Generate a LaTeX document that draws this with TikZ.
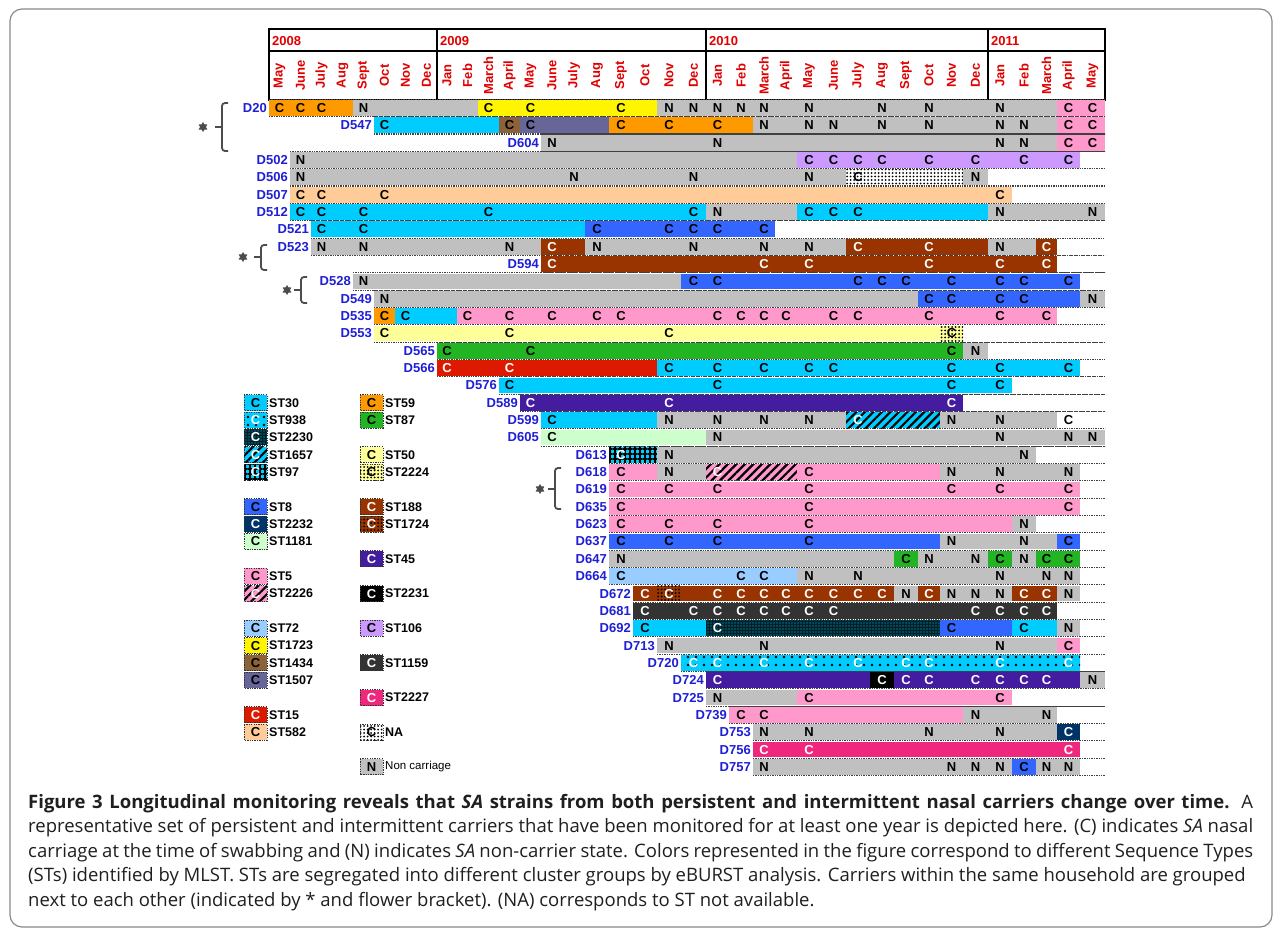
\documentclass[tikz,border=0pt]{standalone}
\usepackage{fontspec}
\usetikzlibrary{patterns.meta,shapes.geometric}
\newfontfamily\arial{Liberation Sans}
\newfontfamily\capf{Open Sans}
\definecolor{cyanST}{HTML}{00CCFF}
\definecolor{blueST}{HTML}{3366FF}
\definecolor{grayN}{HTML}{C0C0C0}
\definecolor{orangeST}{HTML}{FF9900}
\definecolor{yellowST}{HTML}{FFF500}
\definecolor{pinkST}{HTML}{FF99CC}
\definecolor{lavST}{HTML}{CC99FF}
\definecolor{peachST}{HTML}{FFCC99}
\definecolor{brownST}{HTML}{993300}
\definecolor{greenST}{HTML}{22B422}
\definecolor{redST}{HTML}{DD1A00}
\definecolor{paleY}{HTML}{FFFF99}
\definecolor{paleG}{HTML}{CCFFCC}
\definecolor{purpST}{HTML}{441CA0}
\definecolor{dgray}{HTML}{333333}
\definecolor{magST}{HTML}{F0287D}
\definecolor{navyST}{HTML}{003366}
\definecolor{slateST}{HTML}{666699}
\definecolor{oliveST}{HTML}{8C6239}
\definecolor{lblue}{HTML}{99CCFF}
\definecolor{rowblue}{HTML}{1F1FD6}
\definecolor{monred}{HTML}{E00000}
\definecolor{framec}{HTML}{8A8A8A}
\newcommand\bx[1]{\ifcase\numexpr#1\relax 269\or 290\or 311\or 332\or 353\or 374\or 395\or 416\or 437\or 457\or 478\or 499\or 520\or 541\or 563\or 585\or 609\or 633\or 657\or 681\or 706\or 729\or 753\or 775\or 797\or 821\or 846\or 870\or 894\or 918\or 940\or 963\or 988\or 1012\or 1036\or 1057\or 1080\or 1105\else 1105\fi}
\newcommand\rowy[1]{108+17.34*(#1)}
\newcommand\seg[4]{\edef\xa{\bx{#2}}\edef\xb{\bx{#3+1}}\fill[#4] (\xa,{\rowy{#1}-7.9}) rectangle (\xb,{\rowy{#1}+7.9});}
\newcommand\lets[4]{\foreach \c in {#2}{\edef\xa{\bx{\c}}\edef\xb{\bx{\c+1}}\node[lt,text=#4] (r#1c\c) at ({(\xa+\xb)/2},{\rowy{#1}}) {#3};}}
\newcommand\rowbase[3]{%
 \edef\xa{\bx{#2}}%
 \node[rl] (lab#1) at ({\xa-2},{\rowy{#1}}) {#3};
 \draw[dl] (\xa,{\rowy{#1}-8.67}) -- (1105,{\rowy{#1}-8.67});
 \draw[dl] (\xa,{\rowy{#1}+8.67}) -- (1105,{\rowy{#1}+8.67});}
\newcommand\leg[6]{%
 \fill[#3] (#1,{\rowy{#2}-8}) rectangle ({#1+23},{\rowy{#2}+8});
 \draw[lbox] (#1,{\rowy{#2}-8}) rectangle ({#1+23},{\rowy{#2}+8});
 \node[lt,text=#5] (lg#1x#2) at ({#1+11.5},{\rowy{#2}}) {#4};
 \node[legl] (lt#1x#2) at ({#1+25},{\rowy{#2}}) {#6};}
\newcommand\brk[6]{% x, ytop, ybot, ymid, star x, name
 \draw[brl] ({#1+6},#2) -- (#1,#2) -- (#1,#3) -- ({#1+6},#3);
 \draw[brl] (#1,#4) -- ({#1-7},#4);
 \node[stars] (#6) at (#5,#4) {};}
\newcommand\capsel{\capf\fontsize{\capsize}{\capsize}\selectfont}
\newsavebox\capmeasure
\tikzset{
 lt/.style={font=\arial\bfseries\fontsize{13}{13}\selectfont,inner sep=0pt,anchor=center},
 rl/.style={font=\arial\bfseries\fontsize{13}{13}\selectfont,inner sep=0pt,anchor=east,text=rowblue},
 mon/.style={font=\arial\bfseries\fontsize{13}{13}\selectfont,inner sep=0pt,rotate=90,anchor=center,text=monred},
 yr/.style={font=\arial\bfseries\fontsize{13}{13}\selectfont,inner sep=0pt,anchor=west,text=monred},
 legl/.style={font=\arial\bfseries\fontsize{12.5}{12.5}\selectfont,inner sep=0pt,anchor=west},
 dl/.style={draw=black!75,line width=1.1pt,dash pattern=on 1.3pt off 1.1pt},
 lbox/.style={draw=black!80,line width=1pt,dash pattern=on 1.3pt off 1.1pt},
 brl/.style={draw=black!70,line width=1.8pt,rounded corners=3pt},
 stars/.style={star,star points=6,star point ratio=1.7,fill=black!70,minimum size=10pt,inner sep=0pt},
 captext/.style={font=\capsel,inner sep=0pt,anchor=base west,text=black!88},
 stNA/.style={fill=white,postaction={pattern={Dots[distance=3.5pt,radius=1pt]},pattern color=black}},
 st938/.style={fill=cyanST,postaction={pattern={Dots[distance=8pt,radius=1.4pt]},pattern color=black}},
 st2230/.style={fill=black!85!cyanST,postaction={pattern={Dots[distance=3pt,radius=0.7pt]},pattern color=cyanST}},
 st1657/.style={fill=cyanST,postaction={pattern={Lines[angle=45,distance=6pt,line width=2.2pt]},pattern color=black}},
 st97/.style={fill=cyanST,postaction={pattern={Hatch[distance=5pt,line width=1.4pt]},pattern color=black}},
 st2226/.style={fill=pinkST,postaction={pattern={Lines[angle=45,distance=6pt,line width=2.2pt]},pattern color=black}},
 st2224/.style={fill=paleY,postaction={pattern={Dots[distance=3.5pt,radius=1pt]},pattern color=black}},
 st1724/.style={fill=brownST,postaction={pattern={Dots[distance=3.5pt,radius=1pt]},pattern color=black}},
 st2231/.style={fill=black},
}
\begin{document}
\sbox\capmeasure{\capf\fontsize{10}{10}\selectfont representative set of persistent and intermittent carriers that have been monitored for at least one year is depicted here. (C) indicates \textit{SA} nasal}%
\pgfmathsetmacro\capsize{10*1225/\wd\capmeasure}%
\begin{tikzpicture}[x=1pt,y=-1pt]
\useasboundingbox (0,0) rectangle (1281,929);
\fill[white] (0,0) rectangle (1281,929);
\draw[framec,line width=1.2pt,rounded corners=12pt] (10,9) rectangle (1272,927);
% header
\draw[line width=1.1pt] (269,29) rectangle (1105,100);
\draw[line width=1.1pt] (269,51) -- (1105,51);
\foreach \xx in {437,706,988} \draw[line width=1.1pt] (\xx,29) -- (\xx,100);
\node[yr] (y08) at (272,41) {2008};
\node[yr] (y09) at (440,41) {2009};
\node[yr] (y10) at (709,41) {2010};
\node[yr] (y11) at (991,41) {2011};
\foreach \m [count=\i from 0] in {May,June,July,Aug,Sept,Oct,Nov,Dec,Jan,Feb,March,April,May,June,July,Aug,Sept,Oct,Nov,Dec,Jan,Feb,March,April,May,June,July,Aug,Sept,Oct,Nov,Dec,Jan,Feb,March,April,May}
  {\edef\xa{\bx{\i}}\edef\xb{\bx{\i+1}}\node[mon] (m\i) at ({(\xa+\xb)/2},75.5) {\m};}
% rows
% 0 D20
\seg{0}{0}{3}{orangeST}\seg{0}{4}{9}{grayN}\seg{0}{10}{17}{yellowST}\seg{0}{18}{34}{grayN}\seg{0}{35}{36}{pinkST}
\rowbase{0}{0}{D20}
\lets{0}{0,1,2,10,12,16,35,36}{C}{black}\lets{0}{4,18,19,20,21,22,24,27,29,32}{N}{black}
% 1 D547
\seg{1}{5}{10}{cyanST}\seg{1}{11}{11}{oliveST}\seg{1}{12}{15}{slateST}\seg{1}{16}{21}{orangeST}\seg{1}{22}{34}{grayN}\seg{1}{35}{36}{pinkST}
\rowbase{1}{5}{D547}
\lets{1}{5,11,12,16,18,20,35,36}{C}{black}\lets{1}{22,24,25,27,29,32,33}{N}{black}
% 2 D604
\seg{2}{13}{34}{grayN}\seg{2}{35}{36}{pinkST}
\rowbase{2}{13}{D604}
\lets{2}{13,20,32,33}{N}{black}\lets{2}{35,36}{C}{black}
% 3 D502
\seg{3}{1}{23}{grayN}\seg{3}{24}{35}{lavST}
\rowbase{3}{1}{D502}
\lets{3}{1}{N}{black}\lets{3}{24,25,26,27,29,31,33,35}{C}{black}
% 4 D506
\seg{4}{1}{25}{grayN}\seg{4}{26}{30}{stNA}\seg{4}{31}{31}{grayN}
\rowbase{4}{1}{D506}
\lets{4}{1,14,19,24,31}{N}{black}\lets{4}{26}{C}{black}
% 5 D507
\seg{5}{1}{32}{peachST}
\rowbase{5}{1}{D507}
\lets{5}{1,2,5,32}{C}{black}
% 6 D512
\seg{6}{1}{19}{cyanST}\seg{6}{20}{23}{grayN}\seg{6}{24}{31}{cyanST}\seg{6}{32}{36}{grayN}
\rowbase{6}{1}{D512}
\lets{6}{1,2,4,10,19,24,25,26}{C}{black}\lets{6}{20,32,36}{N}{black}
% 7 D521
\seg{7}{2}{14}{cyanST}\seg{7}{15}{22}{blueST}
\rowbase{7}{2}{D521}
\lets{7}{2,4,15,18,19,20,22}{C}{black}
% 8 D523
\seg{8}{2}{12}{grayN}\seg{8}{13}{14}{brownST}\seg{8}{15}{25}{grayN}\seg{8}{26}{31}{brownST}\seg{8}{32}{33}{grayN}\seg{8}{34}{34}{brownST}
\rowbase{8}{2}{D523}
\lets{8}{2,4,11,15,19,22,24,32}{N}{black}\lets{8}{13,26,29,34}{C}{white}
% 9 D594
\seg{9}{13}{34}{brownST}
\rowbase{9}{13}{D594}
\lets{9}{13,22,24,29,32,34}{C}{white}
% 10 D528
\seg{10}{4}{18}{grayN}\seg{10}{19}{35}{blueST}
\rowbase{10}{4}{D528}
\lets{10}{4}{N}{black}\lets{10}{19,20,26,27,28,30,32,33,35}{C}{black}
% 11 D549
\seg{11}{5}{28}{grayN}\seg{11}{29}{35}{blueST}\seg{11}{36}{36}{grayN}
\rowbase{11}{5}{D549}
\lets{11}{5,36}{N}{black}\lets{11}{29,30,32,33}{C}{black}
% 12 D535
\seg{12}{5}{5}{orangeST}\seg{12}{6}{8}{cyanST}\seg{12}{9}{34}{pinkST}
\rowbase{12}{5}{D535}
\lets{12}{5,6,9,11,13,15,16,20,21,22,23,25,26,29,32,34}{C}{black}
% 13 D553
\seg{13}{5}{29}{paleY}\seg{13}{30}{30}{st2224}
\rowbase{13}{5}{D553}
\lets{13}{5,11,18,30}{C}{black}
% 14 D565
\seg{14}{8}{30}{greenST}\seg{14}{31}{31}{grayN}
\rowbase{14}{8}{D565}
\lets{14}{8,12,30}{C}{black}\lets{14}{31}{N}{black}
% 15 D566
\seg{15}{8}{17}{redST}\seg{15}{18}{35}{cyanST}
\rowbase{15}{8}{D566}
\lets{15}{8,11}{C}{white}\lets{15}{18,20,22,24,25,30,32,35}{C}{black}
% 16 D576
\seg{16}{11}{32}{cyanST}
\rowbase{16}{11}{D576}
\lets{16}{11,20,30,32}{C}{black}
% 17 D589
\seg{17}{12}{30}{purpST}
\rowbase{17}{12}{D589}
\lets{17}{12,18,30}{C}{white}
% 18 D599
\seg{18}{13}{17}{cyanST}\seg{18}{18}{25}{grayN}\seg{18}{26}{29}{st1657}\seg{18}{30}{34}{grayN}
\rowbase{18}{13}{D599}
\lets{18}{13,35}{C}{black}\lets{18}{18,20,22,24,30,32}{N}{black}\lets{18}{26}{C}{white}
% 19 D605
\seg{19}{13}{19}{paleG}\seg{19}{20}{36}{grayN}
\rowbase{19}{13}{D605}
\lets{19}{13}{C}{black}\lets{19}{20,32,35,36}{N}{black}
% 20 D613
\seg{20}{16}{17}{st97}\seg{20}{18}{33}{grayN}
\rowbase{20}{16}{D613}
\lets{20}{16}{C}{white}\lets{20}{18,33}{N}{black}
% 21 D618
\seg{21}{16}{17}{pinkST}\seg{21}{18}{19}{grayN}\seg{21}{20}{23}{st2226}\seg{21}{24}{29}{pinkST}\seg{21}{30}{35}{grayN}
\rowbase{21}{16}{D618}
\lets{21}{16,24}{C}{black}\lets{21}{18,30,32,35}{N}{black}\lets{21}{20}{C}{white}
% 22 D619
\seg{22}{16}{35}{pinkST}
\rowbase{22}{16}{D619}
\lets{22}{16,18,20,24,30,32,35}{C}{black}
% 23 D635
\seg{23}{16}{35}{pinkST}
\rowbase{23}{16}{D635}
\lets{23}{16,24,35}{C}{black}
% 24 D623
\seg{24}{16}{32}{pinkST}\seg{24}{33}{33}{grayN}
\rowbase{24}{16}{D623}
\lets{24}{16,18,20,24}{C}{black}\lets{24}{33}{N}{black}
% 25 D637
\seg{25}{16}{29}{blueST}\seg{25}{30}{34}{grayN}\seg{25}{35}{35}{blueST}
\rowbase{25}{16}{D637}
\lets{25}{16,18,20,24,35}{C}{black}\lets{25}{30,33}{N}{black}
% 26 D647
\seg{26}{16}{27}{grayN}\seg{26}{28}{28}{greenST}\seg{26}{29}{31}{grayN}\seg{26}{32}{32}{greenST}\seg{26}{33}{33}{grayN}\seg{26}{34}{35}{greenST}
\rowbase{26}{16}{D647}
\lets{26}{16,29,31,33}{N}{black}\lets{26}{28,32,34,35}{C}{black}
% 27 D664
\seg{27}{16}{23}{lblue}\seg{27}{24}{35}{grayN}
\rowbase{27}{16}{D664}
\lets{27}{16,21,22}{C}{black}\lets{27}{24,26,32,34,35}{N}{black}
% 28 D672
\seg{28}{17}{27}{brownST}\seg{28}{18}{18}{st1724}\seg{28}{28}{28}{grayN}\seg{28}{29}{29}{brownST}\seg{28}{30}{32}{grayN}\seg{28}{33}{34}{brownST}\seg{28}{35}{35}{grayN}
\rowbase{28}{17}{D672}
\lets{28}{17,18,20,21,22,23,24,25,26,27,29,33,34}{C}{white}\lets{28}{28,30,31,32,35}{N}{black}
% 29 D681
\seg{29}{17}{34}{dgray}
\rowbase{29}{17}{D681}
\lets{29}{17,19,20,21,22,23,24,25,31,32,33,34}{C}{white}
% 30 D692
\seg{30}{17}{19}{cyanST}\seg{30}{20}{29}{st2230}\seg{30}{30}{32}{blueST}\seg{30}{33}{34}{cyanST}\seg{30}{35}{35}{grayN}
\rowbase{30}{17}{D692}
\lets{30}{17,30,33}{C}{black}\lets{30}{20}{C}{white}\lets{30}{35}{N}{black}
% 31 D713
\seg{31}{18}{34}{grayN}\seg{31}{35}{35}{pinkST}
\rowbase{31}{18}{D713}
\lets{31}{18,22,32}{N}{black}\lets{31}{35}{C}{black}
% 32 D720
\seg{32}{19}{35}{st938}
\rowbase{32}{19}{D720}
\lets{32}{19,20,22,24,26,28,29,32,35}{C}{white}
% 33 D724
\seg{33}{20}{35}{purpST}\seg{33}{27}{27}{st2231}\seg{33}{36}{36}{grayN}
\rowbase{33}{20}{D724}
\lets{33}{20,27,28,29,31,32,33,34}{C}{white}\lets{33}{36}{N}{black}
% 34 D725
\seg{34}{20}{23}{grayN}\seg{34}{24}{32}{pinkST}
\rowbase{34}{20}{D725}
\lets{34}{20}{N}{black}\lets{34}{24,32}{C}{black}
% 35 D739
\seg{35}{21}{30}{pinkST}\seg{35}{31}{34}{grayN}
\rowbase{35}{21}{D739}
\lets{35}{21,22}{C}{black}\lets{35}{31,34}{N}{black}
% 36 D753
\seg{36}{22}{34}{grayN}\seg{36}{35}{35}{navyST}
\rowbase{36}{22}{D753}
\lets{36}{22,24,29,32}{N}{black}\lets{36}{35}{C}{white}
% 37 D756
\seg{37}{22}{35}{magST}
\rowbase{37}{22}{D756}
\lets{37}{22,24,35}{C}{white}
% 38 D757
\seg{38}{22}{35}{grayN}\seg{38}{33}{33}{blueST}
\rowbase{38}{22}{D757}
\lets{38}{22,30,31,32,34,35}{N}{black}\lets{38}{33}{C}{black}
% brackets
\brk{222}{103}{151}{127}{203}{s1}
\brk{261}{245}{270}{257}{243}{s2}
\brk{301}{277}{303}{290}{287}{s3}
\brk{555}{468}{509}{489}{540}{s4}
% legend left
\leg{244}{17}{cyanST}{C}{black}{ST30}
\leg{244}{18}{st938}{C}{white}{ST938}
\leg{244}{19}{st2230}{C}{white}{ST2230}
\leg{244}{20}{st1657}{C}{white}{ST1657}
\leg{244}{21}{st97}{C}{white}{ST97}
\leg{244}{23}{blueST}{C}{black}{ST8}
\leg{244}{24}{navyST}{C}{white}{ST2232}
\leg{244}{25}{paleG}{C}{black}{ST1181}
\leg{244}{27}{pinkST}{C}{black}{ST5}
\leg{244}{28}{st2226}{C}{white}{ST2226}
\leg{244}{30}{lblue}{C}{black}{ST72}
\leg{244}{31}{yellowST}{C}{black}{ST1723}
\leg{244}{32}{oliveST}{C}{black}{ST1434}
\leg{244}{33}{slateST}{C}{black}{ST1507}
\leg{244}{35}{redST}{C}{white}{ST15}
\leg{244}{36}{peachST}{C}{black}{ST582}
% legend right
\leg{360}{17}{orangeST}{C}{black}{ST59}
\leg{360}{18}{greenST}{C}{black}{ST87}
\leg{360}{20}{paleY}{C}{black}{ST50}
\leg{360}{21}{st2224}{C}{black}{ST2224}
\leg{360}{23}{brownST}{C}{white}{ST188}
\leg{360}{24}{st1724}{C}{white}{ST1724}
\leg{360}{26}{purpST}{C}{white}{ST45}
\leg{360}{28}{st2231}{C}{white}{ST2231}
\leg{360}{30}{lavST}{C}{black}{ST106}
\leg{360}{32}{dgray}{C}{white}{ST1159}
\leg{360}{34}{magST}{C}{white}{ST2227}
\leg{360}{36}{stNA}{C}{black}{NA}
\leg{360}{38}{grayN}{N}{black}{\mdseries\fontsize{11.5}{11.5}\selectfont Non carriage}
% caption
\node[captext] (c1) at (28,808) {\makebox[1225pt][s]{\textbf{Figure 3 Longitudinal monitoring reveals that \textit{SA} strains from both persistent and intermittent nasal carriers change over time.} A}};
\node[captext] (c2) at (28,832.5) {\makebox[1225pt][s]{representative set of persistent and intermittent carriers that have been monitored for at least one year is depicted here. (C) indicates \textit{SA} nasal}};
\node[captext] (c3) at (28,857) {\makebox[1225pt][s]{carriage at the time of swabbing and (N) indicates \textit{SA} non-carrier state. Colors represented in the figure correspond to different Sequence Types}};
\node[captext] (c4) at (28,881.5) {(STs) identified by MLST. STs are segregated into different cluster groups by eBURST analysis. Carriers within the same household are grouped};
\node[captext] (c5) at (28,906) {next to each other (indicated by * and flower bracket). (NA) corresponds to ST not available.};
\end{tikzpicture}
\end{document}
